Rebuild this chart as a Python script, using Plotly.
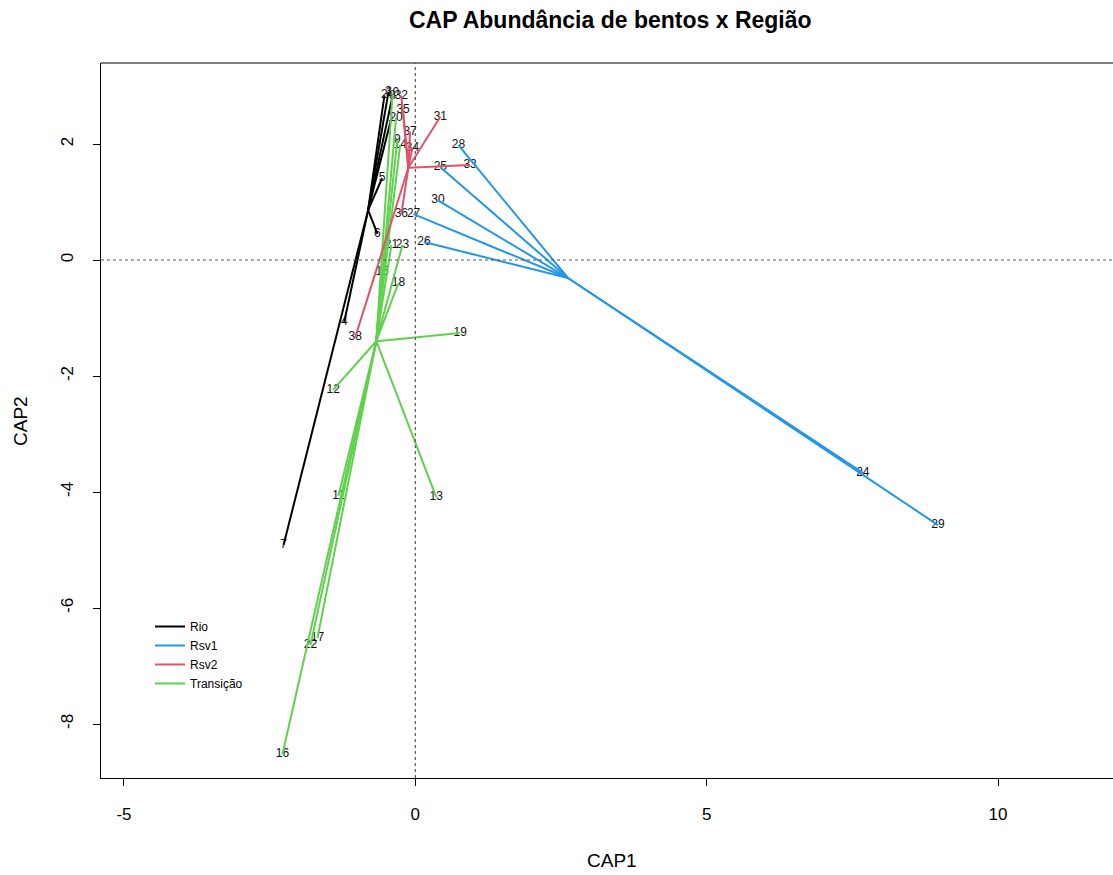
import plotly.graph_objects as go

# ---- data (CAP scores) ----
groups = ["Rio", "Rsv1", "Rsv2", "Transição"]
colors = {"Rio": "#000000", "Rsv1": "#2297E6", "Rsv2": "#DF536B", "Transição": "#61D04F"}

rio_ids = [1, 2, 3, 4, 5, 6, 7, 8]
rio_x = [-0.41, -0.53, -0.46, -1.22, -0.57, -0.65, -2.26, -0.39]
rio_y = [2.45, 2.84, 2.90, -1.07, 1.41, 0.45, -4.91, 2.83]

tra_ids = [9, 10, 11, 12, 13, 14, 15, 16, 17, 18, 19, 20, 21, 22, 23]
tra_x = [-0.31, -0.39, -1.32, -1.41, 0.36, -0.26, -0.57, -2.28, -1.68, -0.29, 0.77, -0.33, -0.41, -1.80, -0.22]
tra_y = [2.07, 2.88, -4.07, -2.24, -4.09, 1.98, -0.21, -8.52, -6.52, -0.40, -1.26, 2.45, 0.26, -6.64, 0.26]

rsv1_ids = [24, 25, 26, 27, 28, 29, 30]
rsv1_x = [7.68, 0.43, 0.15, -0.03, 0.74, 8.97, 0.39]
rsv1_y = [-3.67, 1.60, 0.31, 0.79, 1.98, -4.57, 1.03]

rsv2_ids = [31, 32, 33, 34, 35, 36, 37, 38]
rsv2_x = [0.43, -0.24, 0.94, -0.05, -0.21, -0.24, -0.09, -1.03]
rsv2_y = [2.47, 2.83, 1.64, 1.93, 2.59, 0.79, 2.21, -1.33]

# group centroids (spider centres)
cent_x = {"Rio": -0.81, "Rsv1": 2.62, "Rsv2": -0.12, "Transição": -0.67}
cent_y = {"Rio": 0.86, "Rsv1": -0.31, "Rsv2": 1.59, "Transição": -1.40}

x_ticks = [-5, 0, 5, 10]
y_ticks = [-8, -6, -4, -2, 0, 2]

data = {
    "Rio": (rio_ids, rio_x, rio_y),
    "Transição": (tra_ids, tra_x, tra_y),
    "Rsv1": (rsv1_ids, rsv1_x, rsv1_y),
    "Rsv2": (rsv2_ids, rsv2_x, rsv2_y),
}

FONT = "Liberation Sans, Arial, sans-serif"
fig = go.Figure()

# site labels (drawn under the spider segments)
all_ids, all_x, all_y = [], [], []
for g in ["Rio", "Transição", "Rsv1", "Rsv2"]:
    ids, xs, ys = data[g]
    all_ids += [str(i) for i in ids]
    all_x += xs
    all_y += ys
fig.add_trace(go.Scatter(x=all_x, y=all_y, text=all_ids, mode="text",
                         textposition="middle center",
                         textfont=dict(family=FONT, size=12, color="#111111"),
                         showlegend=False, hoverinfo="skip"))

rank = {"Rio": 1, "Rsv1": 2, "Rsv2": 3, "Transição": 4}
for g in ["Rio", "Transição", "Rsv1", "Rsv2"]:
    ids, xs, ys = data[g]
    sx, sy = [], []
    for xv, yv in zip(xs, ys):
        sx += [cent_x[g], xv, None]
        sy += [cent_y[g], yv, None]
    fig.add_trace(go.Scatter(x=sx, y=sy, mode="lines", name=g,
                             line=dict(color=colors[g], width=2),
                             legendrank=rank[g], hoverinfo="skip"))

L, R, T, B = 101, 0, 63, 97
W, H = 1113, 875
pw, ph = W - L - R, H - T - B
x0 = -5.394
xr = [x0, x0 + pw / 58.27]
yr = [-8.931, 3.397]

fig.update_layout(
    width=W, height=H,
    margin=dict(l=L, r=R, t=T, b=B),
    paper_bgcolor="white", plot_bgcolor="white",
    font=dict(family=FONT, color="black"),
    showlegend=True,
    legend=dict(x=(150 - L) / pw, y=(778 - 612) / ph, xanchor="left", yanchor="top",
                bgcolor="rgba(0,0,0,0)", font=dict(size=12, family=FONT),
                tracegroupgap=0, itemwidth=30),
    xaxis=dict(range=xr, tickvals=x_ticks, ticktext=[str(v) for v in x_ticks],
               showgrid=False, zeroline=False, showline=True, linecolor="black",
               linewidth=1, ticks="outside", ticklen=7, tickcolor="black",
               tickfont=dict(size=17, family=FONT), ticklabelstandoff=14),
    yaxis=dict(range=yr, tickvals=y_ticks, ticktext=[str(v) for v in y_ticks],
               showgrid=False, zeroline=False, showline=True, linecolor="black",
               linewidth=1, ticks="outside", ticklen=7, tickcolor="black",
               tickangle=-90, tickfont=dict(size=17, family=FONT), ticklabelstandoff=13),
    shapes=[
        dict(type="line", xref="paper", yref="paper", x0=0, x1=1, y0=1, y1=1,
             line=dict(color="black", width=1)),
        dict(type="line", xref="x", yref="paper", x0=0, x1=0, y0=0, y1=1,
             line=dict(color="#555555", width=1.2, dash="dot")),
        dict(type="line", xref="paper", yref="y", x0=0, x1=1, y0=0, y1=0,
             line=dict(color="#555555", width=1.2, dash="dot")),
    ],
    annotations=[
        dict(text="<b>CAP Abundância de bentos x Região</b>", xref="paper", yref="paper",
             x=(610 - L) / pw, y=1 + (T - 20) / ph, xanchor="center", yanchor="middle",
             showarrow=False, font=dict(size=23, family=FONT)),
        dict(text="CAP1", xref="paper", yref="paper", x=(612 - L) / pw,
             y=-(860 - 778) / ph, xanchor="center", yanchor="middle",
             showarrow=False, font=dict(size=19, family=FONT)),
        dict(text="CAP2", xref="paper", yref="paper", x=-(L - 20) / pw,
             y=(778 - 421) / ph, xanchor="center", yanchor="middle", textangle=-90,
             showarrow=False, font=dict(size=19, family=FONT)),
    ],
)

fig.write_html("out.html")
